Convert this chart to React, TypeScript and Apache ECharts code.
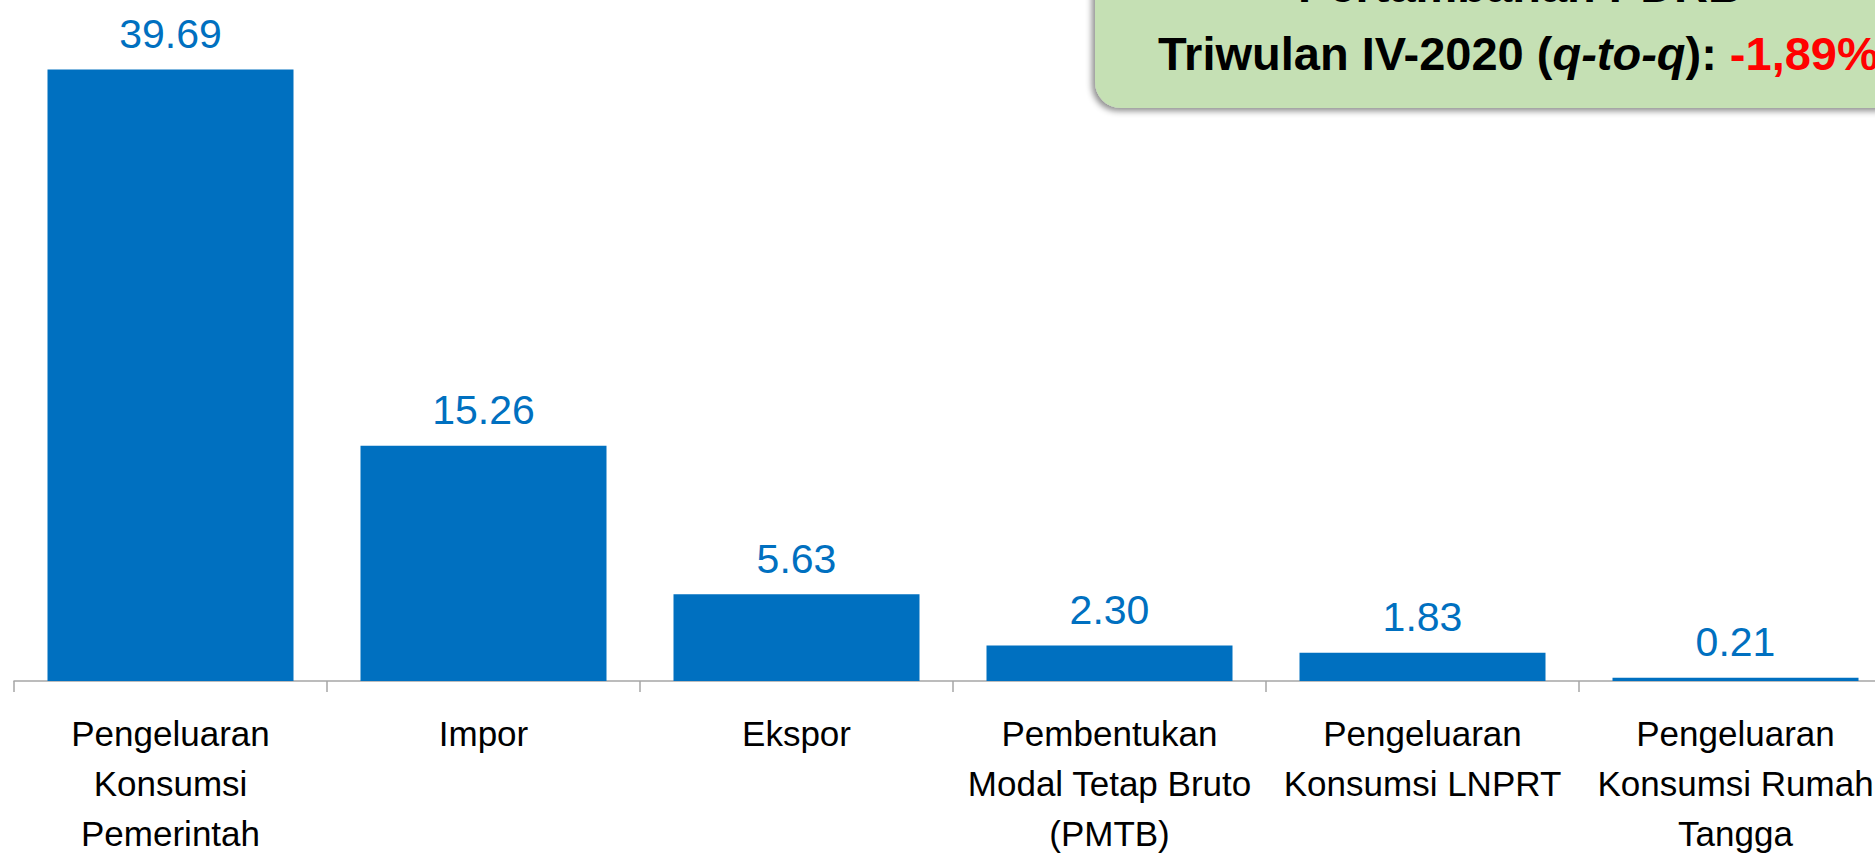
import React, { useEffect, useRef } from "react";
import * as echarts from "echarts";

const categories: string[] = [
  "Pengeluaran\nKonsumsi\nPemerintah",
  "Impor",
  "Ekspor",
  "Pembentukan\nModal Tetap Bruto\n(PMTB)",
  "Pengeluaran\nKonsumsi LNPRT",
  "Pengeluaran\nKonsumsi Rumah\nTangga",
];
const values: number[] = [39.69, 15.26, 5.63, 2.3, 1.83, 0.21];

const boxTitle = "Pertambahan PDRB";
const boxPeriod = "Triwulan IV-2020 (";
const boxQ = "q-to-q";
const boxClose = "): ";
const boxValue = "-1,89%";

const FONT = "'Liberation Sans Narrow', 'Arial Narrow', 'Liberation Sans', Arial, sans-serif";

export default function App() {
  const ref = useRef<HTMLDivElement>(null);
  useEffect(() => {
    if (!ref.current) return;
    const chart = echarts.init(ref.current, undefined, { renderer: "svg" });
    chart.setOption({
      animation: false,
      backgroundColor: "#ffffff",
      grid: { left: 14, top: 3, right: 0, bottom: 176, containLabel: false },
      xAxis: {
        type: "category",
        data: categories,
        axisLine: { show: true, lineStyle: { color: "#A6A6A6", width: 1.5 } },
        axisTick: { show: true, length: 11, lineStyle: { color: "#A6A6A6", width: 1.5 } },
        axisLabel: {
          interval: 0,
          margin: 27,
          color: "#000000",
          fontFamily: FONT,
          fontSize: 35,
          lineHeight: 50,
        },
      },
      yAxis: {
        type: "value",
        min: 0,
        max: 44,
        show: false,
        splitLine: { show: false },
      },
      series: [
        {
          type: "bar",
          data: values,
          barWidth: 246,
          itemStyle: { color: "#0070C0" },
          label: {
            show: true,
            position: "top",
            distance: 15,
            color: "#0070C0",
            fontFamily: FONT,
            fontSize: 41,
            formatter: (p: any) => Number(p.value).toFixed(2),
          },
        },
      ],
      graphic: [
        {
          type: "rect",
          left: 1095,
          top: -40,
          shape: { width: 820, height: 148, r: 26 },
          style: {
            fill: "#C5E0B4",
            shadowBlur: 6,
            shadowColor: "rgba(0,0,0,0.45)",
            shadowOffsetX: -3,
            shadowOffsetY: 3,
          },
          z: 10,
        },
        {
          type: "text",
          x: 1520,
          y: 9,
          z: 11,
          style: {
            text: boxTitle,
            fill: "#000000",
            font: "bold 47px " + FONT,
            align: "center",
            verticalAlign: "bottom",
          },
        },
        {
          type: "text",
          x: 1158,
          y: 53,
          z: 11,
          style: {
            text: `{b|${boxPeriod}}{i|${boxQ}}{b|${boxClose}}{r|${boxValue}}`,
            align: "left",
            verticalAlign: "middle",
            rich: {
              b: { fontFamily: FONT, fontWeight: "bold", fontSize: 47, fill: "#000000", color: "#000000" },
              i: { fontFamily: FONT, fontWeight: "bold", fontStyle: "italic", fontSize: 47, fill: "#000000", color: "#000000" },
              r: { fontFamily: FONT, fontWeight: "bold", fontSize: 47, fill: "#FF0000", color: "#FF0000" },
            },
          },
        },
      ],
    });
    return () => chart.dispose();
  }, []);
  return (
    <div
      style={{ position: "absolute", left: 0, top: 0, width: 1875, height: 858, overflow: "hidden" }}
    >
      <div ref={ref} style={{ width: 1892, height: 858 }} />
    </div>
  );
}
